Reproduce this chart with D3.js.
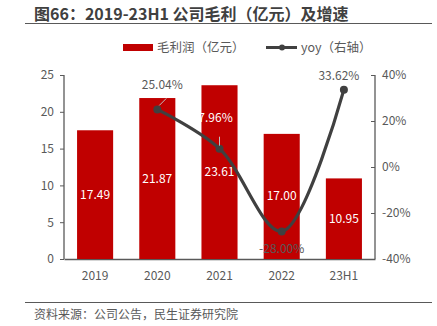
<!DOCTYPE html>
<html>
<head>
<meta charset="utf-8">
<script src="https://cdn.jsdelivr.net/npm/d3@7"></script>
<style>
  body { margin: 0; background: #fff; }
  svg text { font-family: "Noto Sans CJK SC", "Noto Sans", sans-serif; }
</style>
</head>
<body>
<svg id="chart" width="437" height="326"></svg>
<script>
// 数据
const categories = ['2019', '2020', '2021', '2022', '23H1'];
const grossProfit = [17.49, 21.87, 23.61, 17.00, 10.95];
const yoy = [null, 25.04, 7.96, -28.00, 33.62];
const leftTicks = [0, 5, 10, 15, 20, 25];
const rightTicks = [-40, -20, 0, 20, 40];

const svg = d3.select('#chart');
const margin = {top: 75, left: 64, right: 62, bottom: 67};
const width = 437 - margin.left - margin.right;
const height = 326 - margin.top - margin.bottom;

// 标题
svg.append('text')
    .attr('x', 34).attr('y', 20)
    .attr('font-size', 16).attr('font-weight', 'bold')
    .attr('fill', '#404040')
    .text('图66：2019-23H1 公司毛利（亿元）及增速');
svg.append('line')
    .attr('x1', 25).attr('x2', 432).attr('y1', 23.5).attr('y2', 23.5)
    .attr('stroke', '#595959').attr('stroke-width', 1.2);

// 图例
svg.append('rect').attr('x', 123).attr('y', 44).attr('width', 30).attr('height', 7).attr('fill', '#C00000');
svg.append('text').attr('x', 157).attr('y', 52).attr('font-size', 12.5).attr('fill', '#595959').text('毛利润（亿元）');
svg.append('line').attr('x1', 266).attr('x2', 297).attr('y1', 47.5).attr('y2', 47.5)
    .attr('stroke', '#404040').attr('stroke-width', 3);
svg.append('circle').attr('cx', 282).attr('cy', 47.5).attr('r', 3).attr('fill', '#404040');
svg.append('text').attr('x', 301).attr('y', 52).attr('font-size', 12.5).attr('fill', '#595959').text('yoy（右轴）');

const g = svg.append('g').attr('transform', `translate(${margin.left},${margin.top})`);

const x = d3.scaleBand().domain(categories).range([0, width]).paddingInner(0.42).paddingOuter(0.21);
const yL = d3.scaleLinear().domain([0, 25]).range([height, 0]);
const yR = d3.scaleLinear().domain([-40, 40]).range([height, 0]);

// 左轴
const axL = g.append('g')
    .call(d3.axisLeft(yL).tickValues(leftTicks).tickSize(4).tickPadding(6));
// 右轴
const axR = g.append('g').attr('transform', `translate(${width},0)`)
    .call(d3.axisRight(yR).tickValues(rightTicks).tickFormat(d => d + '%').tickSize(0).tickPadding(7));
axR.selectAll('.tick line').attr('x1', -4).attr('x2', 0);
// 底轴
const axB = g.append('g').attr('transform', `translate(0,${height})`)
    .call(d3.axisBottom(x).tickSize(0).tickPadding(12));

[axL, axR, axB].forEach(a => {
    a.selectAll('.domain').attr('stroke', '#595959').attr('stroke-width', 1.3);
    a.selectAll('.tick line').attr('stroke', '#595959');
    a.selectAll('text').attr('font-size', 12).attr('fill', '#595959')
        .attr('font-family', '"Noto Sans CJK SC", "Noto Sans", sans-serif');
});
axL.select('.domain').attr('d', `M0,0V${height}`);
axR.select('.domain').attr('d', `M0,0V${height}`);

// 柱子
g.selectAll('.bar').data(grossProfit).enter().append('rect')
    .attr('class', 'bar')
    .attr('x', (d, i) => x(categories[i]))
    .attr('y', d => yL(d))
    .attr('width', x.bandwidth())
    .attr('height', d => height - yL(d))
    .attr('fill', '#C00000');

g.selectAll('.bar-label').data(grossProfit).enter().append('text')
    .attr('x', (d, i) => x(categories[i]) + x.bandwidth() / 2)
    .attr('y', d => (yL(d) + height) / 2 + 4)
    .attr('text-anchor', 'middle').attr('font-size', 12).attr('fill', '#fff')
    .text(d => d.toFixed(2));

// 折线
const pts = yoy.map((v, i) => ({v, c: categories[i]})).filter(p => p.v !== null);
const cx = p => x(p.c) + x.bandwidth() / 2;
const line = d3.line().x(cx).y(p => yR(p.v)).curve(d3.curveCatmullRom.alpha(0.5));
g.append('path').datum(pts).attr('d', line)
    .attr('fill', 'none').attr('stroke', '#404040').attr('stroke-width', 3.2);
g.selectAll('.dot').data(pts).enter().append('circle')
    .attr('cx', cx).attr('cy', p => yR(p.v)).attr('r', 4).attr('fill', '#404040');

// 折线标签
const labelPos = [
    {dx: 5, dy: -20, color: '#595959', lead: [[2, -4], [9, -11]]},
    {dx: -4, dy: -27, color: '#fff', lead: [[0, -3], [0, -12]]},
    {dx: 0, dy: 22, color: '#595959', lead: null},
    {dx: -5, dy: -10, color: '#595959', lead: null}
];
pts.forEach((p, i) => {
    const lp = labelPos[i];
    const px = cx(p), py = yR(p.v);
    if (lp.lead) {
        g.append('line')
            .attr('x1', px + lp.lead[0][0]).attr('y1', py + lp.lead[0][1])
            .attr('x2', px + lp.lead[1][0]).attr('y2', py + lp.lead[1][1])
            .attr('stroke', '#bfbfbf').attr('stroke-width', 1);
    }
    g.append('text')
        .attr('x', px + lp.dx).attr('y', py + lp.dy)
        .attr('text-anchor', 'middle').attr('font-size', 12).attr('fill', lp.color)
        .text(p.v.toFixed(2) + '%');
});

// 底部
svg.append('line')
    .attr('x1', 25).attr('x2', 432).attr('y1', 302.5).attr('y2', 302.5)
    .attr('stroke', '#595959').attr('stroke-width', 1);
svg.append('text')
    .attr('x', 34).attr('y', 319)
    .attr('font-size', 12).attr('fill', '#595959')
    .text('资料来源：公司公告，民生证券研究院');
</script>
</body>
</html>
